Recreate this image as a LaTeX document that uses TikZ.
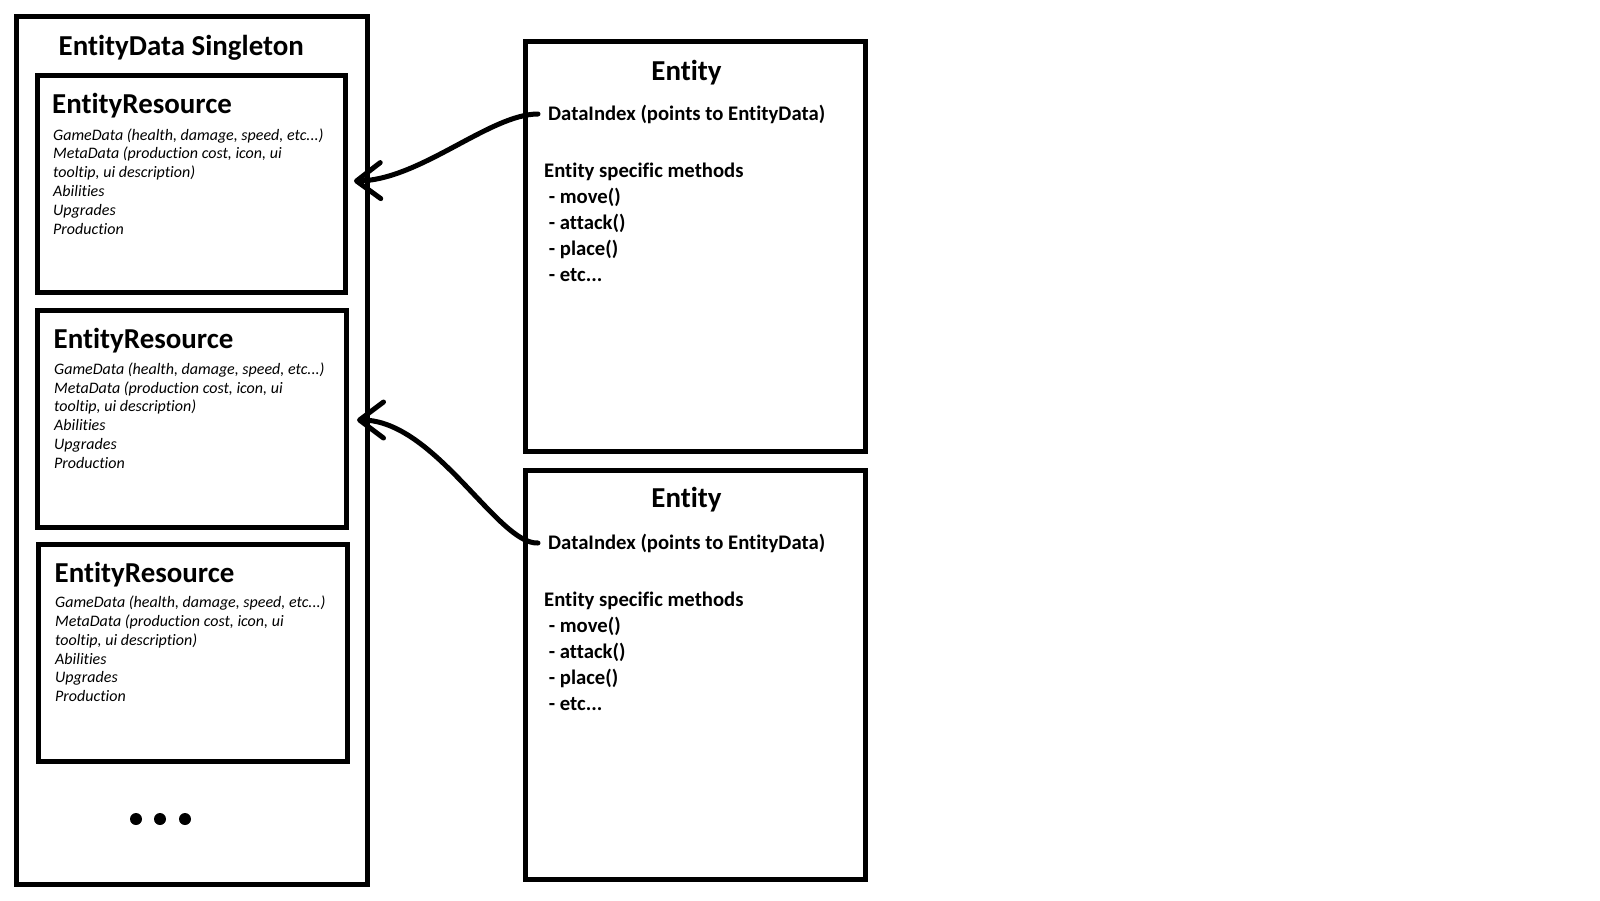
\documentclass[tikz,border=0pt]{standalone}
\usepackage{fontspec}
\setmainfont{Carlito}[Ligatures=NoCommon]
\usetikzlibrary{arrows.meta}
\begin{document}
\begin{tikzpicture}[x=1pt,y=-1pt,
  frame/.style={draw, line width=5pt, inner sep=0pt, outer sep=0pt, anchor=north west},
  bigtitle/.style={inner sep=0pt, font=\bfseries\fontsize{28.9}{34}\selectfont},
  restext/.style={inner sep=0pt, align=left, anchor=base west, font=\itshape\fontsize{16}{18.8}\selectfont},
  enttext/.style={inner sep=0pt, align=left, anchor=base west, font=\bfseries\fontsize{20.7}{26}\selectfont},
  ptr/.style={line width=5pt, line cap=round, -{Straight Barb[length=24pt,width=36pt,line cap=round,line join=round]}}]
\useasboundingbox (0,0) rectangle (1600,900);
\fill[white] (0,0) rectangle (1600,900);

% EntityData singleton
\node[frame, minimum width=350.5pt, minimum height=868.5pt] (singleton) at (16.5,16) {};
\node[bigtitle, anchor=base west] (stitle) at (58.5,55) {EntityData Singleton};

% Resources (multi-line nodes are anchored at the baseline of their last line)
\node[frame, minimum width=308pt, minimum height=217pt] (res1) at (37.5,75) {};
\node[bigtitle, anchor=base west] (r1title) at (52,113) {EntityResource};
\node[restext] (r1text) at (53,234) {GameData (health, damage, speed, etc...)\\MetaData (production cost, icon, ui\\tooltip, ui description)\\Abilities\\Upgrades\\Production};

\node[frame, minimum width=308.5pt, minimum height=217pt] (res2) at (37.5,310) {};
\node[bigtitle, anchor=base west] (r2title) at (53.5,348) {EntityResource};
\node[restext] (r2text) at (54,468.3) {GameData (health, damage, speed, etc...)\\MetaData (production cost, icon, ui\\tooltip, ui description)\\Abilities\\Upgrades\\Production};

\node[frame, minimum width=309pt, minimum height=217pt] (res3) at (38.5,544) {};
\node[bigtitle, anchor=base west] (r3title) at (54.5,582) {EntityResource};
\node[restext] (r3text) at (55,701.7) {GameData (health, damage, speed, etc...)\\MetaData (production cost, icon, ui\\tooltip, ui description)\\Abilities\\Upgrades\\Production};

\fill (136,819) circle (6);
\fill (160,819) circle (6);
\fill (185,819) circle (6);

% Entities
\node[frame, minimum width=340pt, minimum height=409.5pt] (ent1) at (525.5,41.5) {};
\node[bigtitle, anchor=base] (e1title) at (686.5,80) {Entity};
\node[enttext] (e1idx) at (548,120) {DataIndex (points to EntityData)};
\node[enttext] (e1meth) at (544,281) {Entity specific methods\\\ - move()\\\ - attack()\\\ - place()\\\ - etc...};

\node[frame, minimum width=340pt, minimum height=409pt] (ent2) at (525.5,470.5) {};
\node[bigtitle, anchor=base] (e2title) at (686.5,507) {Entity};
\node[enttext] (e2idx) at (548,549) {DataIndex (points to EntityData)};
\node[enttext] (e2meth) at (544,710) {Entity specific methods\\\ - move()\\\ - attack()\\\ - place()\\\ - etc...};

% pointers
\coordinate (p1s) at (538,114);
\coordinate (p1e) at (354,181);
\coordinate (p2s) at (538,543);
\coordinate (p2e) at (357,420);
\draw[ptr] (p1s) .. controls (490,114) and (420,180) .. (p1e);
\draw[ptr] (p2s) .. controls (498,545) and (435,420) .. (p2e);
\end{tikzpicture}
\end{document}
